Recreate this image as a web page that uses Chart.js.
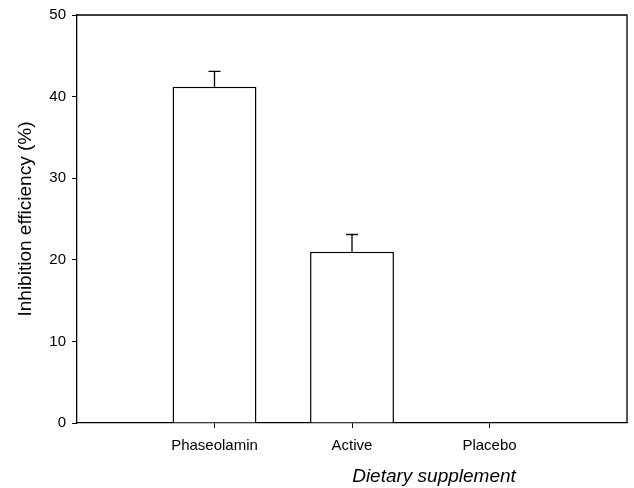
<!DOCTYPE html>
<html>
<head>
<meta charset="utf-8">
<script src="https://cdn.jsdelivr.net/npm/chart.js@4/dist/chart.umd.min.js"></script>
<style>
  html, body { margin: 0; padding: 0; background: #fff; }
  #Wrap { width: 634px; height: 488px; }
</style>
</head>
<body>
<div id="Wrap"><canvas id="BarChart"></canvas></div>
<script>
const categories = ["Phaseolamin", "Active", "Placebo"];
const positions = [1, 2, 3];
const efficiency = [41.2, 21.0, 0];
const errorUpper = [1.9, 2.1, 0];
const yTicks = [0, 10, 20, 30, 40, 50];

const fontFamily = "Arial, 'Liberation Sans', sans-serif";

// upper error bars with a small cap
const errorBars = {
  id: "errorBars",
  afterDatasetsDraw(chart) {
    const { ctx, scales } = chart;
    const meta = chart.getDatasetMeta(0);
    ctx.save();
    ctx.strokeStyle = "#000";
    ctx.lineWidth = 1.3;
    meta.data.forEach((bar, i) => {
      if (!errorUpper[i]) return;
      const x = bar.x;
      const y0 = scales.y.getPixelForValue(efficiency[i]);
      const y1 = scales.y.getPixelForValue(efficiency[i] + errorUpper[i]);
      ctx.beginPath();
      ctx.moveTo(x, y0);
      ctx.lineTo(x, y1);
      ctx.moveTo(x - 6, y1);
      ctx.lineTo(x + 6, y1);
      ctx.stroke();
    });
    ctx.restore();
  },
};

// top and right edges of the frame, plus the x axis title
const frame = {
  id: "frame",
  afterDraw(chart) {
    const { ctx, chartArea } = chart;
    ctx.save();
    ctx.strokeStyle = "#000";
    ctx.lineWidth = 1.3;
    ctx.beginPath();
    ctx.moveTo(chartArea.left, chartArea.top);
    ctx.lineTo(chartArea.right, chartArea.top);
    ctx.lineTo(chartArea.right, chartArea.bottom);
    ctx.stroke();

    ctx.fillStyle = "#000";
    ctx.font = "italic 19px " + fontFamily;
    ctx.textAlign = "center";
    ctx.textBaseline = "middle";
    ctx.fillText("Dietary supplement", 434, 477);
    ctx.restore();
  },
};

new Chart(document.querySelector("#BarChart"), {
  type: "bar",
  data: {
    datasets: [
      {
        label: "Inhibition efficiency",
        data: positions.map((x, i) => ({ x, y: efficiency[i] })),
        backgroundColor: "#fff",
        borderColor: "#000",
        borderWidth: 1.5,
        categoryPercentage: 1,
        barPercentage: 0.61,
      },
    ],
  },
  options: {
    responsive: true,
    maintainAspectRatio: false,
    animation: false,
    layout: { padding: { top: 12, right: 7, left: 14, bottom: 0 } },
    plugins: {
      legend: { display: false },
      tooltip: { enabled: false },
    },
    scales: {
      x: {
        type: "linear",
        min: 0,
        max: 4,
        offset: false,
        afterBuildTicks(scale) {
          scale.ticks = positions.map((value) => ({ value }));
        },
        afterFit(scale) {
          scale.height = 65;
        },
        ticks: {
          color: "#000",
          padding: 9,
          font: { family: fontFamily, size: 15 },
          callback: (value) => categories[positions.indexOf(value)],
        },
        grid: {
          offset: false,
          drawOnChartArea: false,
          drawTicks: true,
          tickLength: 5,
          color: "#000",
        },
        border: { display: true, color: "#000", width: 1.3 },
      },
      y: {
        min: 0,
        max: 50,
        afterBuildTicks(scale) {
          scale.ticks = yTicks.map((value) => ({ value }));
        },
        afterFit(scale) {
          scale.width = 63;
        },
        title: {
          display: true,
          text: "Inhibition efficiency (%)",
          color: "#000",
          font: { family: fontFamily, size: 19 },
          padding: { top: 0, bottom: 3 },
        },
        ticks: {
          color: "#000",
          padding: 6,
          font: { family: fontFamily, size: 15 },
        },
        grid: {
          drawOnChartArea: false,
          drawTicks: true,
          tickLength: 5,
          color: "#000",
        },
        border: { display: true, color: "#000", width: 1.3 },
      },
    },
  },
  plugins: [errorBars, frame],
});
</script>
</body>
</html>
